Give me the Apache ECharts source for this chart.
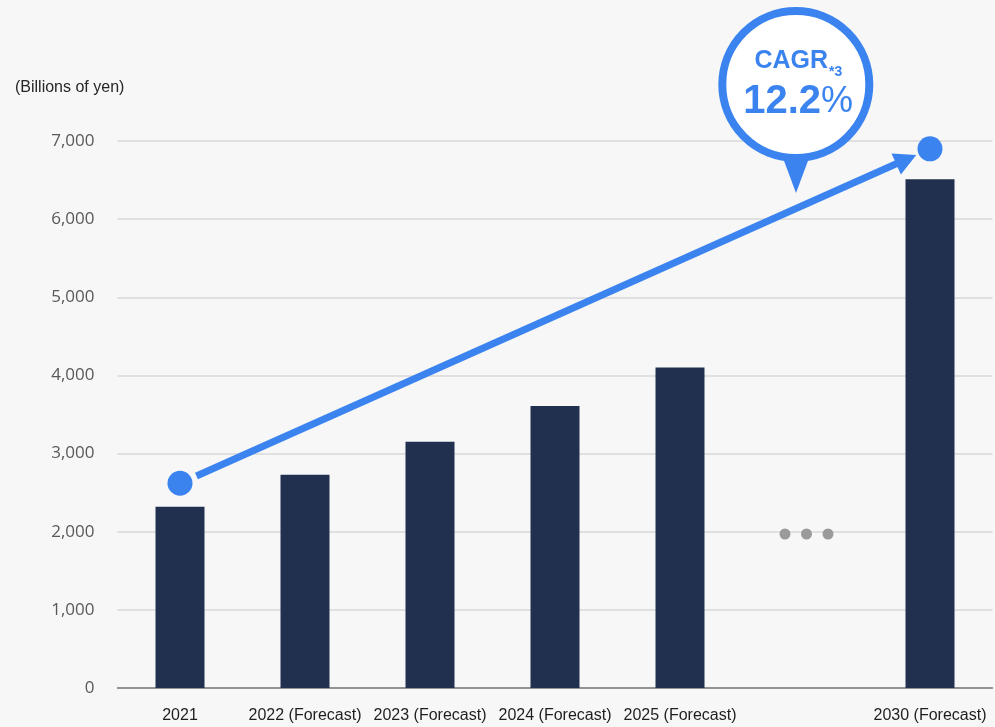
<!DOCTYPE html>
<html>
<head>
<meta charset="utf-8">
<script src="https://cdn.jsdelivr.net/npm/echarts@6/dist/echarts.min.js"></script>
<style>
  html, body { margin: 0; padding: 0; background: #f7f7f7; }
  #chart { width: 995px; height: 727px; }
</style>
</head>
<body>
<div id="chart"></div>
<script>
// Market size by year (billions of yen)
const categories = ['2021', '2022 (Forecast)', '2023 (Forecast)', '2024 (Forecast)', '2025 (Forecast)', '', '2030 (Forecast)'];
const marketValues = [2320, 2730, 3150, 3610, 4100, null, 6510];
// Growth arrow endpoints: [category index, value]
const trendStart = [0, 2620];
const trendEnd = [6, 6900];
const yTicks = { min: 0, max: 7000, interval: 1000 };
const cagrLabel = 'CAGR';
const cagrNote = '*3';
const cagrValue = '12.2';
const unitLabel = '(Billions of yen)';

const BLUE = '#3b84f0';
const chart = echarts.init(document.getElementById('chart'));

chart.setOption({
  backgroundColor: '#f7f7f7',
  animation: false,
  grid: { left: 117.5, right: 2.5, top: 141, bottom: 39 },
  xAxis: {
    type: 'category',
    data: categories,
    axisTick: { show: false },
    axisLine: { lineStyle: { color: '#7a7a7a', width: 1.5 } },
    axisLabel: { color: '#1f1f1f', fontSize: 16, fontFamily: 'Liberation Sans, Arial, sans-serif', margin: 20, interval: 0 }
  },
  yAxis: {
    type: 'value',
    min: yTicks.min, max: yTicks.max, interval: yTicks.interval,
    axisLine: { show: false },
    axisTick: { show: false },
    splitLine: { lineStyle: { color: '#d9d9d9', width: 1.5 } },
    axisLabel: {
      color: '#595959', fontSize: 17, fontFamily: 'Open Sans, sans-serif', margin: 23,
      formatter: v => v.toLocaleString('en-US')
    }
  },
  series: [
    {
      type: 'bar',
      data: marketValues,
      barWidth: 49,
      itemStyle: { color: '#22304f' },
      z: 2
    },
    {
      // Growth arrow between the two trend points, trimmed to leave a gap at each dot
      type: 'custom',
      data: [[trendStart[0], trendStart[1], trendEnd[0], trendEnd[1]]],
      renderItem: function (params, api) {
        const p0 = api.coord([api.value(0), api.value(1)]);
        const p1 = api.coord([api.value(2), api.value(3)]);
        const dx = p1[0] - p0[0], dy = p1[1] - p0[1];
        const len = Math.sqrt(dx * dx + dy * dy);
        const ux = dx / len, uy = dy / len;
        const nx = -uy, ny = ux;
        const s = [p0[0] + ux * 18, p0[1] + uy * 18];
        const tip = [p1[0] - ux * 15, p1[1] - uy * 15];
        const headLen = 22, headHalf = 11.5;
        const base = [tip[0] - ux * headLen, tip[1] - uy * headLen];
        return {
          type: 'group',
          children: [
            {
              type: 'line',
              shape: { x1: s[0], y1: s[1], x2: base[0] + ux * 2, y2: base[1] + uy * 2 },
              style: { stroke: BLUE, lineWidth: 7 }
            },
            {
              type: 'polygon',
              shape: { points: [tip, [base[0] + nx * headHalf, base[1] + ny * headHalf], [base[0] - nx * headHalf, base[1] - ny * headHalf]] },
              style: { fill: BLUE }
            }
          ]
        };
      },
      z: 3
    },
    {
      type: 'scatter',
      data: [trendStart, trendEnd],
      symbol: 'circle',
      symbolSize: 25,
      itemStyle: { color: BLUE, opacity: 1 },
      z: 4
    }
  ],
  graphic: [
    {
      type: 'text', left: 15, top: 80,
      style: { text: unitLabel, fill: '#262626', font: '16px "Liberation Sans", Arial, sans-serif' }
    },
    // gap marker between 2025 and 2030
    { type: 'circle', shape: { cx: 785, cy: 534, r: 5.5 }, style: { fill: '#9a9a9a' }, z: 5 },
    { type: 'circle', shape: { cx: 806.5, cy: 534, r: 5.5 }, style: { fill: '#9a9a9a' }, z: 5 },
    { type: 'circle', shape: { cx: 828, cy: 534, r: 5.5 }, style: { fill: '#9a9a9a' }, z: 5 },
    // CAGR callout bubble
    {
      type: 'polygon', z: 10,
      shape: { points: [[780, 150], [812, 150], [796, 193]] },
      style: { fill: BLUE }
    },
    {
      type: 'circle', z: 11,
      shape: { cx: 795.8, cy: 84.5, r: 73.5 },
      style: { fill: '#ffffff', stroke: BLUE, lineWidth: 8 }
    },
    {
      type: 'text', z: 12, x: 828, y: 61,
      style: { text: cagrLabel, fill: BLUE, font: 'bold 25px "Liberation Sans", Arial, sans-serif', textAlign: 'right', textVerticalAlign: 'middle' }
    },
    {
      type: 'text', z: 12, x: 829, y: 72,
      style: { text: cagrNote, fill: BLUE, font: 'bold 14px "Liberation Sans", Arial, sans-serif', textAlign: 'left', textVerticalAlign: 'middle' }
    },
    {
      type: 'text', z: 12, x: 821, y: 102,
      style: { text: cagrValue, fill: BLUE, font: 'bold 40px "Liberation Sans", Arial, sans-serif', textAlign: 'right', textVerticalAlign: 'middle' }
    },
    {
      type: 'text', z: 12, x: 821, y: 102,
      style: { text: '%', fill: BLUE, font: '36px "Liberation Sans", Arial, sans-serif', textAlign: 'left', textVerticalAlign: 'middle' }
    }
  ]
});
</script>
</body>
</html>
